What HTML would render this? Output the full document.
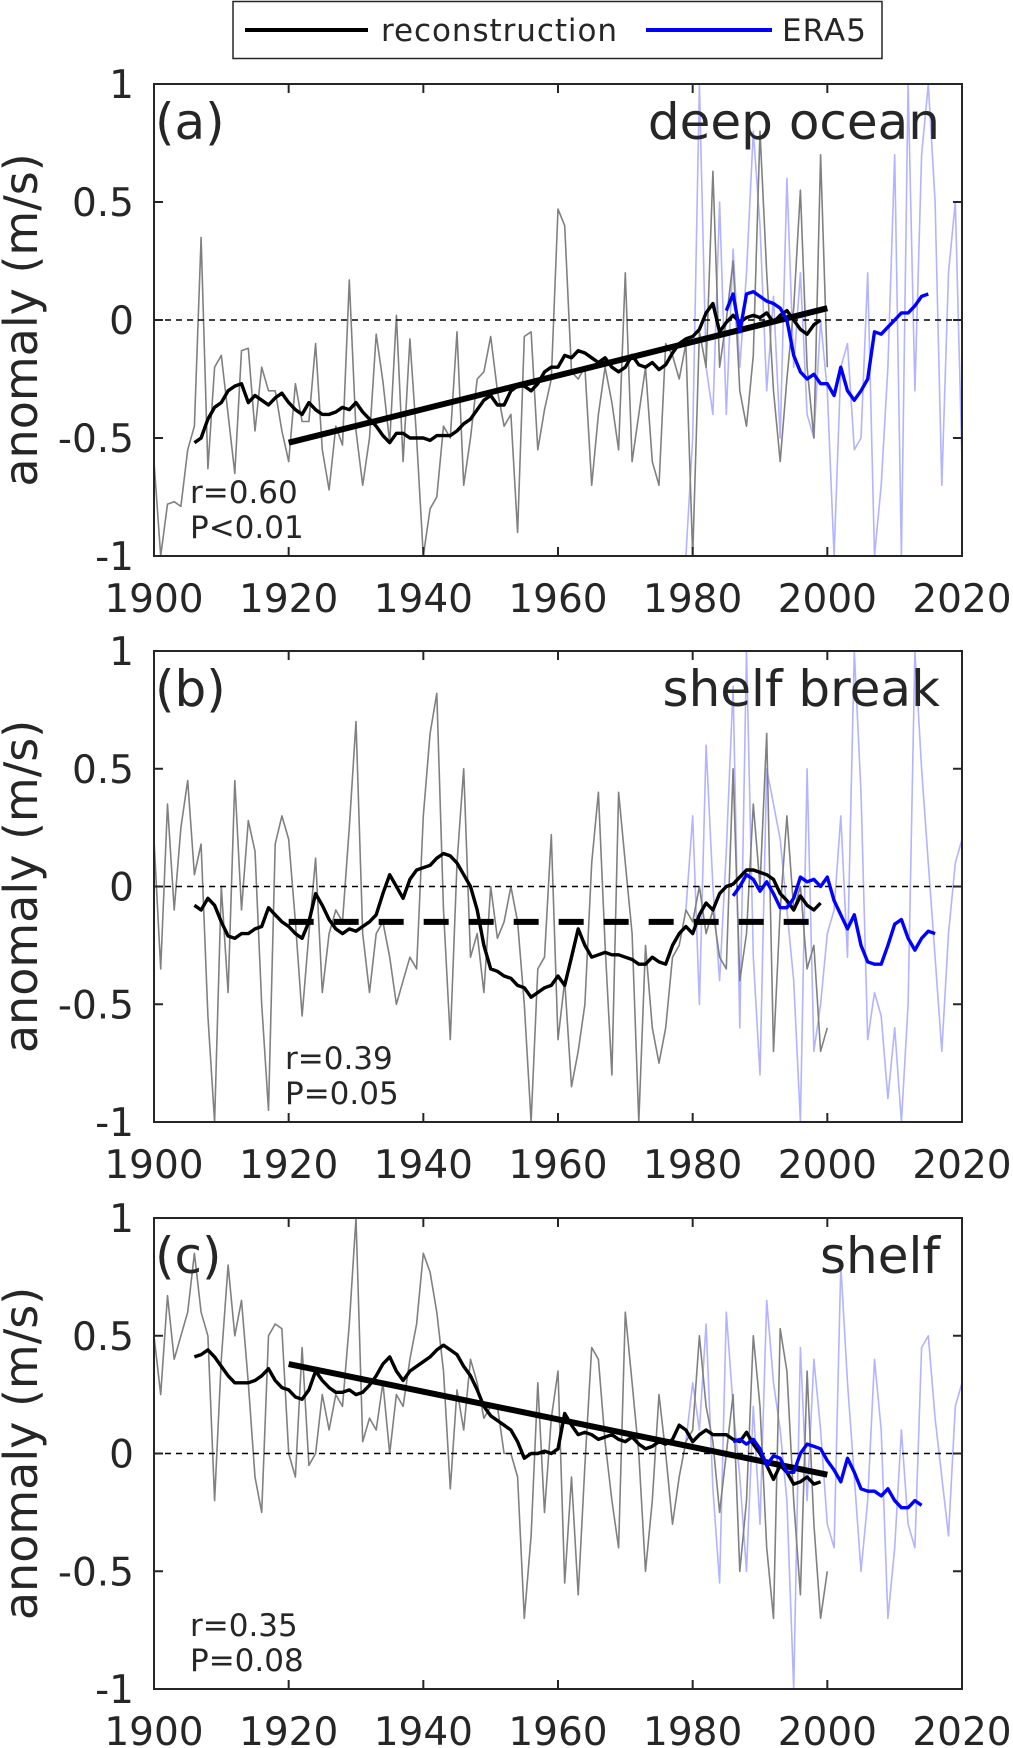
<!DOCTYPE html>
<html><head><meta charset="utf-8"><style>
html,body{margin:0;padding:0;background:#fff;}
svg{display:block;}
text{font-family:"DejaVu Sans","Liberation Sans",sans-serif;fill:#262626;}
</style></head>
<body>
<svg id="fig" width="1013" height="1748" viewBox="0 0 1013 1748" xmlns="http://www.w3.org/2000/svg">
<g>
<rect x="233" y="1.5" width="649" height="57" fill="#fff" stroke="#262626" stroke-width="1.5"/>
<line x1="245" y1="30" x2="368" y2="30" stroke="#000" stroke-width="4"/>
<text x="381" y="41" font-size="31" textLength="236">reconstruction</text>
<line x1="646" y1="30" x2="772" y2="30" stroke="#0000ff" stroke-width="4"/>
<text x="782" y="41" font-size="31" textLength="84">ERA5</text>
</g>
</svg>
<script>
const years0 = 1900;
const xTicks = [1900,1920,1940,1960,1980,2000,2020];
const yTicks = [1,0.5,0,-0.5,-1];
const yTickLabels = ["1","0.5","0","-0.5","-1"];
const panelTitles = ["deep ocean","shelf break","shelf"];
const panelLetters = ["(a)","(b)","(c)"];
const rLabels = ["r=0.60","r=0.39","r=0.35"];
const pLabels = ["P<0.01","P=0.05","P=0.08"];

const greyA = [-0.6,-1.0,-0.78,-0.77,-0.79,-0.55,-0.45,0.35,-0.63,-0.2,-0.15,-0.4,-0.65,-0.13,-0.12,-0.47,-0.2,-0.3,-0.3,-0.47,-0.6,-0.27,-0.43,-0.43,-0.1,-0.55,-0.72,-0.45,-0.53,0.17,-0.47,-0.7,-0.5,-0.06,-0.26,-0.52,0.02,-0.6,-0.08,-0.5,-1.0,-0.8,-0.75,-0.45,-0.5,-0.05,-0.7,-0.5,-0.25,-0.22,-0.07,-0.3,-0.45,-0.4,-0.9,-0.07,-0.05,-0.55,-0.38,-0.25,0.47,0.4,-0.22,-0.25,-0.2,-0.7,-0.4,-0.2,-0.35,-0.55,0.2,-0.6,-0.4,-0.2,-0.6,-0.7,-0.1,-0.15,-0.25,-0.1,-1.0,-0.05,-0.2,0.63,-0.2,0.0,0.25,-0.3,-0.45,-0.15,0.8,0.2,-0.3,-0.6,-0.25,0.05,0.55,-0.2,-0.5,0.7,-0.2];
const greyB = [0.2,-0.35,0.35,-0.1,0.25,0.45,0.05,0.18,-0.55,-1.0,0.0,-0.45,0.45,-0.1,0.28,0.15,-0.5,-0.95,0.18,0.3,0.2,-0.15,-0.55,-0.2,0.12,-0.45,-0.2,-0.1,-0.15,0.25,0.7,-0.2,-0.45,-0.2,-0.15,-0.3,-0.5,-0.4,-0.3,-0.35,0.3,0.65,0.82,-0.1,-0.65,0.1,0.5,-0.3,-0.2,-0.45,0.0,-0.22,-0.15,0.0,-0.15,-0.5,-1.0,-0.35,-0.3,0.22,-0.65,-0.4,-0.85,-0.7,-0.5,0.1,0.4,-0.25,-0.8,0.4,0.1,-0.2,-1.0,-0.25,-0.6,-0.75,-0.6,-0.3,-0.25,-0.1,-0.15,0.0,-0.2,-0.1,-0.3,-0.35,0.5,-0.4,-0.2,0.35,0.0,0.65,-0.7,-0.1,0.3,-0.1,0.0,-0.35,-0.25,-0.7,-0.6];
const greyC = [0.5,0.25,0.67,0.4,0.5,0.6,0.85,0.6,0.5,-0.2,0.4,0.8,0.5,0.65,0.3,-0.1,-0.25,0.5,0.55,0.53,0.0,-0.1,0.45,-0.05,0.0,0.25,0.1,0.25,0.2,0.55,1.0,0.05,0.15,0.1,0.3,0.0,0.25,0.2,0.4,0.55,0.85,0.77,0.6,0.35,-0.15,0.27,0.1,0.4,0.3,0.15,0.2,0.2,0.0,0.0,-0.1,-0.7,-0.35,0.3,-0.25,0.15,0.35,-0.55,-0.1,-0.6,-0.05,0.45,0.4,0.05,-0.2,-0.4,0.6,0.3,0.0,-0.5,-0.2,0.25,0.0,-0.3,-0.1,0.05,0.1,0.5,0.2,0.05,-0.25,0.0,0.25,-0.5,-0.2,0.5,0.2,-0.4,-0.7,0.53,0.35,-0.2,-0.6,0.35,-0.3,-0.7,-0.5];
const eraStart = 1979;
const eraA = [-1.0,-0.5,1.0,-0.2,-0.4,0.5,-0.4,0.3,-0.2,0.2,0.8,0.4,-0.3,0.1,-0.5,0.6,-0.2,0.2,-0.4,-0.5,0.0,-0.3,-1.0,-0.2,-0.1,-0.55,-0.5,0.2,-1.0,-0.7,-0.2,0.7,-1.0,1.0,-0.3,0.7,1.0,0.5,-0.7,0.2,0.5,-0.6];
const eraB = [-0.1,0.3,-0.5,0.6,0.0,-0.4,0.15,0.85,-0.6,1.0,-0.3,-0.8,0.5,0.35,0.2,-0.1,-0.4,-1.0,0.5,-0.7,-0.5,-0.2,-0.1,0.3,-0.3,1.0,0.4,-0.65,-0.45,-0.55,-0.9,-0.6,-1.0,-0.5,1.0,0.5,0.1,-0.3,-0.7,-0.2,0.1,0.2];
const eraC = [0.05,0.3,0.1,0.55,-0.15,-0.55,0.6,0.2,-0.1,-0.5,0.2,-0.3,0.65,0.3,0.1,-0.2,-1.0,0.45,-0.2,0.4,0.1,-0.3,-0.4,0.8,0.3,-0.1,-0.5,-0.2,0.4,0.1,-0.7,-0.4,0.1,-0.3,-0.4,0.45,0.5,0.15,-0.1,-0.35,0.2,0.3];
const smStart = 1906;
const smA = [-0.52,-0.5,-0.42,-0.37,-0.35,-0.3,-0.28,-0.27,-0.35,-0.32,-0.34,-0.36,-0.33,-0.31,-0.35,-0.38,-0.4,-0.35,-0.38,-0.4,-0.4,-0.39,-0.37,-0.38,-0.35,-0.39,-0.42,-0.45,-0.49,-0.52,-0.48,-0.48,-0.5,-0.5,-0.5,-0.51,-0.49,-0.49,-0.49,-0.47,-0.44,-0.42,-0.38,-0.34,-0.32,-0.36,-0.36,-0.3,-0.28,-0.28,-0.3,-0.27,-0.22,-0.2,-0.2,-0.15,-0.16,-0.13,-0.14,-0.16,-0.18,-0.16,-0.2,-0.22,-0.2,-0.15,-0.19,-0.2,-0.18,-0.21,-0.19,-0.14,-0.1,-0.08,-0.07,-0.04,0.03,0.07,-0.05,-0.01,0.02,-0.01,0.01,0.02,0.01,0.03,-0.01,0.02,0.04,0.0,-0.04,-0.06,-0.02,0.0];
const smB = [-0.08,-0.1,-0.05,-0.08,-0.15,-0.21,-0.22,-0.2,-0.2,-0.18,-0.17,-0.09,-0.12,-0.15,-0.17,-0.2,-0.22,-0.15,-0.03,-0.08,-0.14,-0.18,-0.2,-0.18,-0.19,-0.17,-0.15,-0.12,-0.03,0.05,0.0,-0.05,0.03,0.07,0.08,0.09,0.12,0.14,0.13,0.1,0.05,0.0,-0.1,-0.25,-0.35,-0.36,-0.38,-0.39,-0.42,-0.43,-0.47,-0.45,-0.43,-0.42,-0.38,-0.42,-0.3,-0.18,-0.25,-0.3,-0.29,-0.28,-0.29,-0.29,-0.3,-0.31,-0.33,-0.33,-0.3,-0.32,-0.33,-0.25,-0.2,-0.17,-0.2,-0.12,-0.07,-0.1,-0.03,0.0,0.01,0.04,0.07,0.07,0.06,0.05,0.03,-0.03,-0.06,-0.1,-0.04,-0.08,-0.1,-0.07];
const smC = [0.41,0.42,0.44,0.41,0.37,0.33,0.3,0.3,0.3,0.31,0.33,0.36,0.31,0.28,0.27,0.24,0.23,0.27,0.35,0.31,0.28,0.26,0.26,0.27,0.25,0.26,0.29,0.33,0.38,0.41,0.35,0.31,0.35,0.37,0.39,0.41,0.44,0.46,0.44,0.42,0.37,0.33,0.27,0.2,0.16,0.14,0.12,0.1,0.05,-0.02,0.0,0.0,0.01,0.0,0.02,0.17,0.12,0.08,0.09,0.08,0.06,0.07,0.08,0.06,0.05,0.07,0.04,0.02,0.03,0.05,0.04,0.06,0.12,0.1,0.05,0.08,0.1,0.08,0.08,0.08,0.06,0.05,0.09,0.04,0.0,-0.05,-0.11,-0.05,-0.08,-0.13,-0.12,-0.1,-0.13,-0.12];
const smEraStartA = 1985;
const smEraA = [0.04,0.11,-0.05,0.11,0.12,0.1,0.08,0.07,0.05,0.0,-0.15,-0.22,-0.25,-0.23,-0.27,-0.27,-0.32,-0.2,-0.3,-0.34,-0.3,-0.25,-0.05,-0.06,-0.03,0.0,0.03,0.03,0.06,0.1,0.11];
const smEraStartB = 1986;
const smEraB = [-0.04,0.0,0.05,0.03,-0.02,0.02,-0.03,-0.09,-0.09,-0.05,0.04,0.02,0.03,0.0,0.04,-0.06,-0.12,-0.18,-0.12,-0.25,-0.32,-0.33,-0.33,-0.25,-0.16,-0.14,-0.22,-0.27,-0.22,-0.19,-0.2];
const smEraStartC = 1986;
const smEraC = [0.05,0.06,0.04,0.06,0.02,-0.05,-0.01,-0.02,-0.08,-0.08,0.0,0.04,0.03,0.02,-0.03,-0.07,-0.12,-0.02,-0.08,-0.15,-0.16,-0.16,-0.18,-0.15,-0.2,-0.23,-0.23,-0.2,-0.22];
const trendYears = [1920, 2000];
const trendA = [-0.52, 0.05];
const trendB = [-0.15, -0.15];
const trendC = [0.38, -0.09];

const NS = "http://www.w3.org/2000/svg";
const svg = document.getElementById("fig");
const X0 = 154, X1 = 962;
function xs(year){ return X0 + (year - 1900) / 120 * (X1 - X0); }
function mk(tag, attrs, parent){
  const e = document.createElementNS(NS, tag);
  for (const k in attrs) e.setAttribute(k, attrs[k]);
  parent.appendChild(e);
  return e;
}

const panels = [
  {top:84, bot:556, grey:greyA, era:eraA, sm:smA, smEra:smEraA, smEraStart:smEraStartA, trend:trendA, dashed:false, rX:190, tag:"a"},
  {top:651, bot:1122, grey:greyB, era:eraB, sm:smB, smEra:smEraB, smEraStart:smEraStartB, trend:trendB, dashed:true, rX:285, tag:"b"},
  {top:1218, bot:1689, grey:greyC, era:eraC, sm:smC, smEra:smEraC, smEraStart:smEraStartC, trend:trendC, dashed:false, rX:190, tag:"c"}
];

panels.forEach((p, i) => {
  const ys = v => p.top + (1 - v) / 2 * (p.bot - p.top);
  const g = mk("g", {}, svg);
  
  
  const cid = "clip" + i;
  const cp = mk("clipPath", {id: cid}, g);
  mk("rect", {x: X0, y: p.top, width: X1 - X0, height: p.bot - p.top}, cp);
  const plot = mk("g", {"clip-path": "url(#" + cid + ")"}, g);

  function path(vals, start, attrs, name){
    let d = "";
    vals.forEach((v, k) => { d += (k ? "L" : "M") + xs(start + k).toFixed(1) + " " + ys(v).toFixed(1); });
    const e = mk("path", Object.assign({d: d, fill: "none", "stroke-linejoin": "round"}, attrs), plot);
    
    
    return e;
  }
  path(p.era, eraStart, {stroke: "#b3b3ff", "stroke-width": 1.6}, 'era5-annual-line');
  path(p.grey, years0, {stroke: "#808080", "stroke-width": 1.6}, 'reconstruction-annual-line');
  const zl = mk("line", {x1: X0, x2: X1, y1: ys(0), y2: ys(0), stroke: "#000", "stroke-width": 1.5, "stroke-dasharray": "6 5"}, plot);
  
  
  const tr = mk("line", {x1: xs(trendYears[0]), x2: xs(trendYears[1]), y1: ys(p.trend[0]), y2: ys(p.trend[1]), stroke: "#000", "stroke-width": 6}, plot);
  if (p.dashed) tr.setAttribute("stroke-dasharray", "25 20");
  
  
  path(p.sm, smStart, {stroke: "#000", "stroke-width": 3.4}, 'reconstruction-smoothed-line');
  path(p.smEra, p.smEraStart, {stroke: "#0000ff", "stroke-width": 3.4}, 'era5-smoothed-line');

  const box = mk("rect", {x: X0, y: p.top, width: X1 - X0, height: p.bot - p.top, fill: "none", stroke: "#262626", "stroke-width": 2}, g);
  
  
  xTicks.forEach(t => {
    const x = xs(t);
    mk("line", {x1: x, x2: x, y1: p.bot, y2: p.bot - 9, stroke: "#262626", "stroke-width": 2}, g);
    mk("line", {x1: x, x2: x, y1: p.top, y2: p.top + 9, stroke: "#262626", "stroke-width": 2}, g);
    const tl = mk("text", {x: x, y: p.bot + 56, "font-size": 39, "text-anchor": "middle"}, g);
    tl.textContent = t;
    
    
  });
  yTicks.forEach((t, k) => {
    const y = ys(t);
    mk("line", {x1: X0, x2: X0 + 9, y1: y, y2: y, stroke: "#262626", "stroke-width": 2}, g);
    mk("line", {x1: X1, x2: X1 - 9, y1: y, y2: y, stroke: "#262626", "stroke-width": 2}, g);
    const tl = mk("text", {x: 134, y: y + 14, "font-size": 39, "text-anchor": "end"}, g);
    tl.textContent = yTickLabels[k];
    
    
  });
  const yl = mk("text", {x: 0, y: 0, "font-size": 46, "text-anchor": "middle", transform: "translate(37," + ((p.top + p.bot) / 2) + ") rotate(-90)"}, g);
  yl.textContent = "anomaly (m/s)";
  
  
  const lt = mk("text", {x: 155, y: p.top + 55, "font-size": 50, fill: "#000"}, g);
  lt.textContent = panelLetters[i];
  
  
  const tt = mk("text", {x: 940, y: p.top + 55, "font-size": 50, "text-anchor": "end", fill: "#000"}, g);
  tt.textContent = panelTitles[i];
  
  
  const rt = mk("text", {x: p.rX, y: p.bot - 53, "font-size": 31, fill: "#000"}, g);
  rt.textContent = rLabels[i];
  
  
  const pt = mk("text", {x: p.rX, y: p.bot - 18, "font-size": 31, fill: "#000"}, g);
  pt.textContent = pLabels[i];
  
  
});
</script>
</body></html>
